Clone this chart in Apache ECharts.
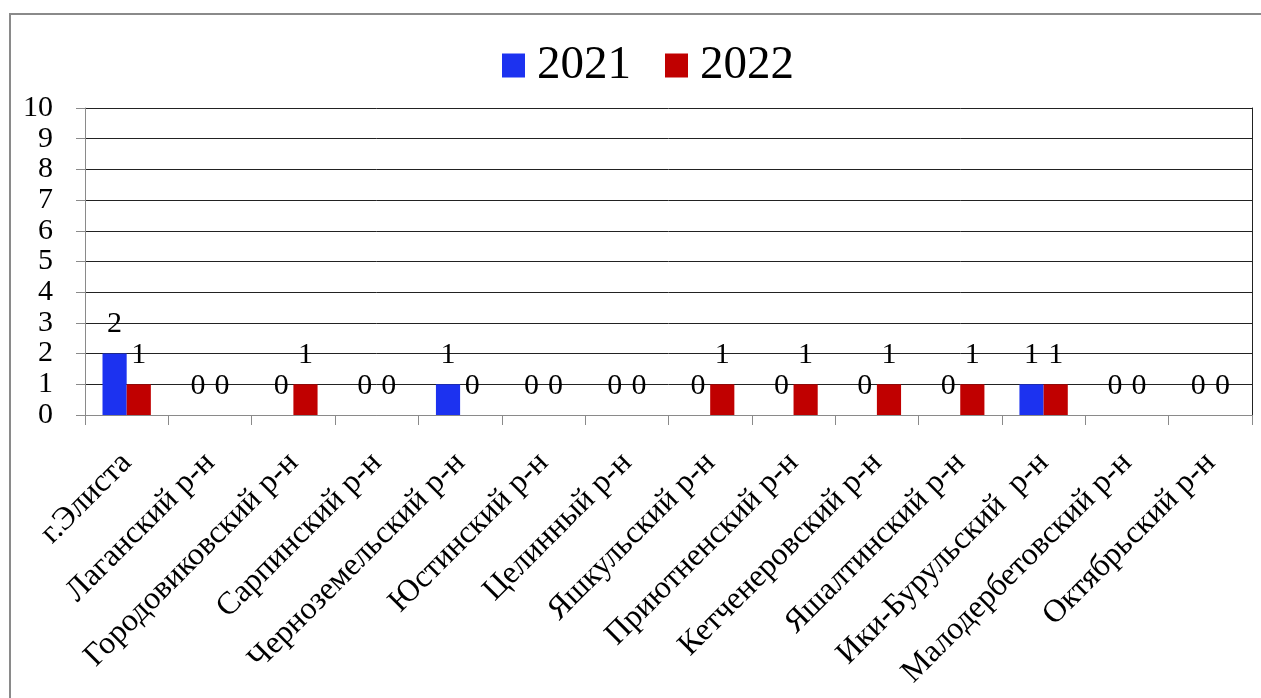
<!DOCTYPE html>
<html>
<head>
<meta charset="utf-8">
<script src="https://cdn.jsdelivr.net/npm/echarts@6/dist/echarts.min.js"></script>
<style>
html,body{margin:0;padding:0;background:#fff;}
#chart{width:1261px;height:698px;}
</style>
</head>
<body>
<div id="chart"></div>
<script>
const categories = ['г.Элиста','Лаганский р-н','Городовиковский р-н','Сарпинский р-н','Черноземельский р-н','Юстинский р-н','Целинный р-н','Яшкульский р-н','Приютненский р-н','Кетченеровский р-н','Яшалтинский р-н','Ики-Бурульский  р-н','Малодербетовский р-н','Октябрьский р-н'];
const values2021 = [2,0,0,0,1,0,0,0,0,0,0,1,0,0];
const values2022 = [1,0,1,0,0,0,0,1,1,1,1,1,0,0];
const seriesNames = ['2021','2022'];
const yTicks = [0,1,2,3,4,5,6,7,8,9,10];

const FONT = 'Liberation Serif';
const chart = echarts.init(document.getElementById('chart'), null, {renderer:'canvas'});
const labelCfg = {show:true, position:'top', distance:14, fontSize:30, fontFamily:FONT, color:'#000'};
chart.setOption({
  animation:false,
  backgroundColor:'#fff',
  graphic:[{type:'rect', shape:{x:10, y:14, width:1400, height:900}, style:{fill:'none', stroke:'#8a8a8a', lineWidth:2}, silent:true, z:-1}],
  legend:{
    left:497, top:37, itemWidth:23, itemHeight:24, itemGap:34, icon:'rect',
    textStyle:{fontSize:47, fontFamily:FONT, color:'#000', padding:[0,0,0,7]},
    data:seriesNames
  },
  grid:{left:85, right:9, top:108, bottom:283, containLabel:false},
  xAxis:{
    type:'category', data:categories,
    axisLine:{show:true, lineStyle:{color:'#8a8a8a', width:1}},
    axisTick:{show:true, length:10, alignWithLabel:false, lineStyle:{color:'#8a8a8a'}},
    axisLabel:{interval:0, rotate:45, margin:43, fontSize:32, fontFamily:FONT, color:'#000'},
    splitLine:{show:false}
  },
  yAxis:[{
    type:'value', min:yTicks[0], max:yTicks[yTicks.length-1], interval:1,
    axisLine:{show:true, lineStyle:{color:'#8a8a8a', width:1}},
    axisTick:{show:true, length:9, lineStyle:{color:'#8a8a8a'}},
    axisLabel:{margin:32, fontSize:30, fontFamily:FONT, color:'#000'},
    splitLine:{show:true, lineStyle:{color:['#8a8a8a','#222','#222','#222','#222','#222','#222','#222','#222','#222','#222'], width:1}}
  },{
    type:'value', position:'right', min:yTicks[0], max:yTicks[yTicks.length-1], interval:1,
    axisLine:{show:true, lineStyle:{color:'#222', width:1}},
    axisTick:{show:false}, axisLabel:{show:false}, splitLine:{show:false}
  }],
  series:[
    {name:seriesNames[0], type:'bar', data:values2021, barGap:'0%', barCategoryGap:'42%', itemStyle:{color:'#1c32f0'}, label:labelCfg},
    {name:seriesNames[1], type:'bar', data:values2022, barGap:'0%', barCategoryGap:'42%', itemStyle:{color:'#c00000'}, label:labelCfg}
  ]
});
</script>
</body>
</html>
